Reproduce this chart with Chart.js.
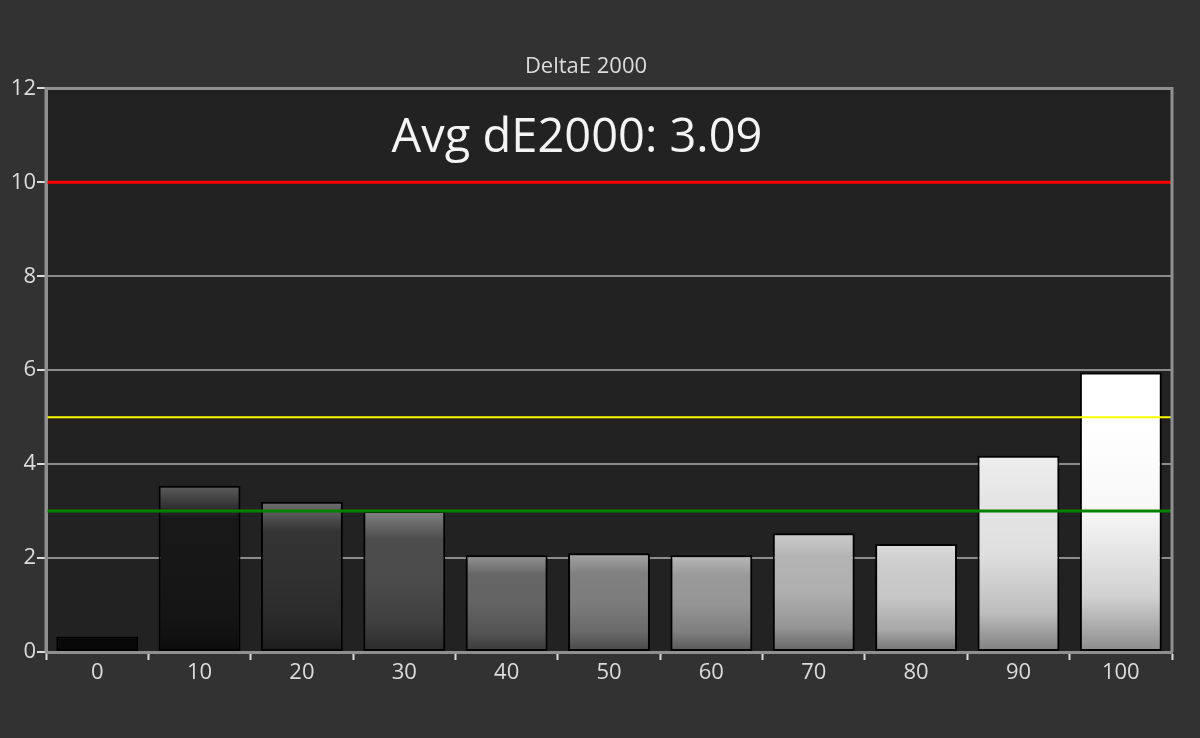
<!DOCTYPE html>
<html>
<head>
<meta charset="utf-8">
<script src="https://cdn.jsdelivr.net/npm/chart.js@4/dist/chart.umd.min.js"></script>
<style>
html,body{margin:0;padding:0;background:#323232;}
#wrap{width:1200px;height:738px;}
</style>
</head>
<body>
<div id="wrap"><canvas id="c" width="1200" height="738"></canvas></div>
<script>
// ---- data ----
const categories = ['0','10','20','30','40','50','60','70','80','90','100'];
const deltaE = [0.33, 3.54, 3.2, 3.0, 2.06, 2.1, 2.06, 2.53, 2.3, 4.18, 5.95];
const yTicks = [0, 2, 4, 6, 8, 10, 12];
const thresholdValues = [10, 5, 3];
const chartTitle = 'DeltaE 2000';
const avgLabel = 'Avg dE2000: 3.09';

// ---- styles ----
const barGrays = [8, 24, 51, 77, 102, 128, 154, 180, 204, 230, 255];
const thresholdColors = ['#ff0000', '#ffff00', '#008000'];
const thresholdWidths = [3, 2, 3];

function rgb(v){ v = Math.max(0, Math.min(255, Math.round(v))); return 'rgb(' + v + ',' + v + ',' + v + ')'; }

const bg = {
  id: 'bg',
  beforeDraw(chart){
    const {ctx, chartArea: a} = chart;
    ctx.save();
    ctx.fillStyle = '#323232';
    ctx.fillRect(0, 0, chart.width, chart.height);
    ctx.fillStyle = '#222222';
    ctx.fillRect(a.left, a.top, a.right - a.left, a.bottom - a.top);
    ctx.restore();
  },
  afterDatasetsDraw(chart){
    const {ctx, chartArea: a, scales} = chart;
    ctx.save();
    thresholdValues.forEach((v, i) => {
      const y = scales.y.getPixelForValue(v);
      ctx.strokeStyle = thresholdColors[i];
      ctx.lineWidth = thresholdWidths[i];
      ctx.beginPath();
      ctx.moveTo(a.left, y);
      ctx.lineTo(a.right, y);
      ctx.stroke();
    });
    // frame
    ctx.strokeStyle = '#8f8f8f';
    ctx.lineWidth = 3;
    ctx.beginPath();
    ctx.moveTo(a.left, a.bottom);
    ctx.lineTo(a.left, a.top);
    ctx.lineTo(a.right, a.top);
    ctx.lineTo(a.right, a.bottom);
    ctx.stroke();
    // avg label
    ctx.fillStyle = '#f4f4f4';
    ctx.font = '47px "Open Sans", sans-serif';
    ctx.textAlign = 'center';
    ctx.textBaseline = 'alphabetic';
    ctx.fillText(avgLabel, 577, 152);
    ctx.restore();
  }
};

function barFill(context){
  const chart = context.chart;
  const i = context.dataIndex;
  const g = barGrays[i];
  if (!chart.chartArea || context.type !== 'data') return rgb(g);
  const y = chart.scales.y;
  const top = y.getPixelForValue(context.raw);
  const bot = y.getPixelForValue(0);
  const h = bot - top;
  if (h < 30) return rgb(g);
  const grad = chart.ctx.createLinearGradient(0, top, 0, bot);
  grad.addColorStop(0, rgb(g + (255 - g) * 0.3));
  grad.addColorStop(0.2, rgb(g));
  grad.addColorStop(0.5, rgb(g * 0.97));
  grad.addColorStop(0.8, rgb(g * 0.82));
  grad.addColorStop(1, rgb(g * 0.55));
  return grad;
}

new Chart(document.getElementById('c'), {
  type: 'bar',
  data: {
    labels: categories,
    datasets: [{
      data: deltaE,
      backgroundColor: barFill,
      borderColor: '#000000',
      borderWidth: 2,
      borderSkipped: false,
      barPercentage: 0.8,
      categoryPercentage: 1.0
    }]
  },
  plugins: [bg],
  options: {
    responsive: false,
    animation: false,
    devicePixelRatio: 1,
    layout: { padding: { left: 0, right: 28, top: 0, bottom: 0 } },
    plugins: {
      legend: { display: false },
      tooltip: { enabled: false },
      title: {
        display: true,
        text: chartTitle,
        color: '#dcdcdc',
        font: { family: '"Open Sans", sans-serif', size: 22, weight: 'normal', lineHeight: 1.2 },
        padding: { top: 54, bottom: 8 }
      }
    },
    scales: {
      x: {
        afterFit(s){ s.height = 86; },
        grid: {
          offset: true,
          drawOnChartArea: false,
          drawTicks: true,
          tickLength: 8,
          tickColor: '#dcdcdc',
          tickWidth: 2
        },
        border: { color: '#8f8f8f', width: 3 },
        ticks: {
          color: '#dcdcdc',
          font: { family: '"Open Sans", sans-serif', size: 22 },
          padding: 0
        }
      },
      y: {
        min: 0,
        max: 12,
        afterFit(s){ s.width = 46; },
        afterBuildTicks(s){ s.ticks = yTicks.map(v => ({ value: v })); },
        grid: {
          color: ctx => (ctx.tick && (ctx.tick.value === 0 || ctx.tick.value === 12)) ? 'rgba(0,0,0,0)' : '#8c8c8c',
          lineWidth: 2,
          drawTicks: true,
          tickLength: 9,
          tickColor: '#dcdcdc',
          tickWidth: 2
        },
        border: { color: '#8f8f8f', width: 3 },
        ticks: {
          color: '#dcdcdc',
          font: { family: '"Open Sans", sans-serif', size: 22 },
          padding: 1
        }
      }
    }
  }
});
</script>
</body>
</html>
